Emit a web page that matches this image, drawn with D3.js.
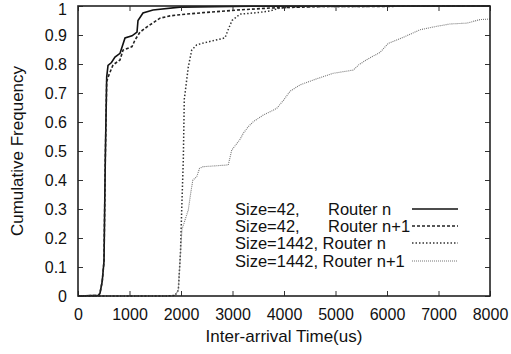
<!DOCTYPE html>
<html>
<head>
<meta charset="utf-8">
<script src="https://cdn.jsdelivr.net/npm/d3@7"></script>
<style>
  body { margin: 0; background: #fff; }
  svg { display: block; }
  text { font-family: "Liberation Sans", Arial, sans-serif; fill: #111; }
</style>
</head>
<body>
<div id="chart"></div>
<script>
// data: [inter-arrival time (us), cumulative frequency]
const size42RouterN = [
  [0, 0], [400, 0.002], [427, 0.01], [470, 0.05], [505, 0.12], [530, 0.47], [557, 0.755],
  [583, 0.795], [650, 0.805], [718, 0.824], [816, 0.837], [913, 0.89], [1049, 0.897],
  [1146, 0.91], [1165, 0.95], [1262, 0.976], [1456, 0.986], [1980, 0.996], [3340, 0.999], [8000, 1]
];
const size42RouterN1 = [
  [0, 0], [400, 0.002], [427, 0.01], [470, 0.05], [505, 0.12], [530, 0.47], [557, 0.74],
  [596, 0.76], [680, 0.797], [816, 0.814], [874, 0.848], [1049, 0.86], [1107, 0.883],
  [1204, 0.91], [1340, 0.928], [1592, 0.958], [1786, 0.966], [1980, 0.97], [2427, 0.977],
  [3087, 0.986], [3728, 0.993], [4700, 0.998], [8000, 1]
];
const size1442RouterN = [
  [0, 0], [1700, 0], [1883, 0.002], [1948, 0.02], [1990, 0.15], [2014, 0.3], [2045, 0.47],
  [2064, 0.68], [2080, 0.7], [2100, 0.73], [2142, 0.79], [2208, 0.848], [2305, 0.866],
  [2427, 0.872], [2854, 0.89], [2913, 0.917], [2990, 0.95], [3146, 0.972], [3476, 0.977],
  [3728, 0.983], [3922, 0.993], [4311, 0.998], [8000, 1]
];
const size1442RouterN1 = [
  [0, 0], [1700, 0], [1883, 0.002], [1948, 0.02], [1990, 0.15], [2019, 0.23], [2078, 0.262],
  [2142, 0.297], [2188, 0.354], [2230, 0.4], [2305, 0.411], [2360, 0.44], [2430, 0.446],
  [2600, 0.448], [2918, 0.452], [2985, 0.503], [3146, 0.54], [3210, 0.561], [3307, 0.584],
  [3404, 0.601], [3598, 0.624], [3760, 0.638], [3858, 0.647], [3986, 0.674], [4117, 0.706],
  [4311, 0.728], [4635, 0.749], [4957, 0.768], [5346, 0.779], [5450, 0.797], [5606, 0.815],
  [5864, 0.84], [6025, 0.871], [6317, 0.892], [6641, 0.918], [6965, 0.93], [7223, 0.938],
  [7548, 0.941], [7806, 0.953], [8000, 0.955]
];

const sizeLabels = ['Size=42,', 'Size=42,', 'Size=1442,', 'Size=1442,'];
const routerLabels = ['Router n', 'Router n+1', 'Router n', 'Router n+1'];
const xTicks = [0, 1000, 2000, 3000, 4000, 5000, 6000, 7000, 8000];
const yTicks = [0, 0.1, 0.2, 0.3, 0.4, 0.5, 0.6, 0.7, 0.8, 0.9, 1];

const width = 511, height = 354;
const margin = {top: 6, right: 21, bottom: 58, left: 78};
const innerW = width - margin.left - margin.right;
const innerH = height - margin.top - margin.bottom;

const svg = d3.select('#chart').append('svg')
  .attr('width', width)
  .attr('height', height);

const g = svg.append('g')
  .attr('transform', `translate(${margin.left},${margin.top})`);

const x = d3.scaleLinear().domain([0, 8000]).range([0, innerW]);
const y = d3.scaleLinear().domain([0, 1]).range([innerH, 0]);

// line styles, one per series
const series = [
  {data: size42RouterN, stroke: '#111', width: 1.6, dash: null},
  {data: size42RouterN1, stroke: '#222', width: 1.6, dash: '3,2'},
  {data: size1442RouterN, stroke: '#333', width: 1.5, dash: '1.5,2'},
  {data: size1442RouterN1, stroke: '#777', width: 1.1, dash: '1,1'}
];

const line = d3.line()
  .x(d => x(d[0]))
  .y(d => y(d[1]));

g.selectAll('.series')
  .data(series)
  .enter().append('path')
  .attr('class', 'series')
  .attr('fill', 'none')
  .attr('stroke', d => d.stroke)
  .attr('stroke-width', d => d.width)
  .attr('stroke-dasharray', d => d.dash)
  .attr('d', d => line(d.data));

// axes, gnuplot style: ticks inward, mirrored on top and right
const tickLen = 5;
const xAxis = g.append('g')
  .attr('transform', `translate(0,${innerH})`)
  .call(d3.axisBottom(x).tickValues(xTicks).tickSize(-tickLen).tickPadding(13).tickFormat(d3.format('d')));
const xTop = g.append('g')
  .call(d3.axisTop(x).tickValues(xTicks).tickSize(-tickLen).tickFormat(''));
const yAxis = g.append('g')
  .call(d3.axisLeft(y).tickValues(yTicks).tickSize(-tickLen).tickPadding(11).tickFormat(d => d === 0 || d === 1 ? d : d3.format('.1f')(d)));
const yRight = g.append('g')
  .attr('transform', `translate(${innerW},0)`)
  .call(d3.axisRight(y).tickValues(yTicks).tickSize(-tickLen).tickFormat(''));

[xAxis, xTop, yAxis, yRight].forEach(a => {
  a.select('.domain').remove();
  a.selectAll('line').attr('stroke', '#333').attr('stroke-width', 1);
  a.selectAll('text').style('font-size', '16px').attr('fill', '#111');
});
// keep the top "1" label inside the page
yAxis.selectAll('.tick').filter(d => d === 1).select('text').attr('dy', '0.5em');

g.append('rect')
  .attr('width', innerW)
  .attr('height', innerH)
  .attr('fill', 'none')
  .attr('stroke', '#222')
  .attr('stroke-width', 1.6);

// axis titles
svg.append('text')
  .attr('x', margin.left + innerW / 2)
  .attr('y', 342)
  .attr('text-anchor', 'middle')
  .style('font-size', '17px')
  .text('Inter-arrival Time(us)');

svg.append('text')
  .attr('transform', `translate(23,${margin.top + innerH / 2}) rotate(-90)`)
  .attr('text-anchor', 'middle')
  .style('font-size', '17px')
  .text('Cumulative Frequency');

// legend
const legendRows = [209, 226, 243, 261];
const legend = svg.append('g');
series.forEach((s, i) => {
  const row = legend.append('g').attr('transform', `translate(0,${legendRows[i]})`);
  const t = row.append('text')
    .attr('x', 235)
    .attr('dy', '0.35em')
    .style('font-size', '16.5px');
  if (i < 2) {
    t.append('tspan').text(sizeLabels[i]);
    t.append('tspan').attr('x', 328).text(routerLabels[i]);
  } else {
    t.text(sizeLabels[i] + ' ' + routerLabels[i]);
  }
  row.append('line')
    .attr('x1', 412).attr('x2', 458)
    .attr('stroke', s.stroke)
    .attr('stroke-width', s.width)
    .attr('stroke-dasharray', s.dash);
});
</script>
</body>
</html>
